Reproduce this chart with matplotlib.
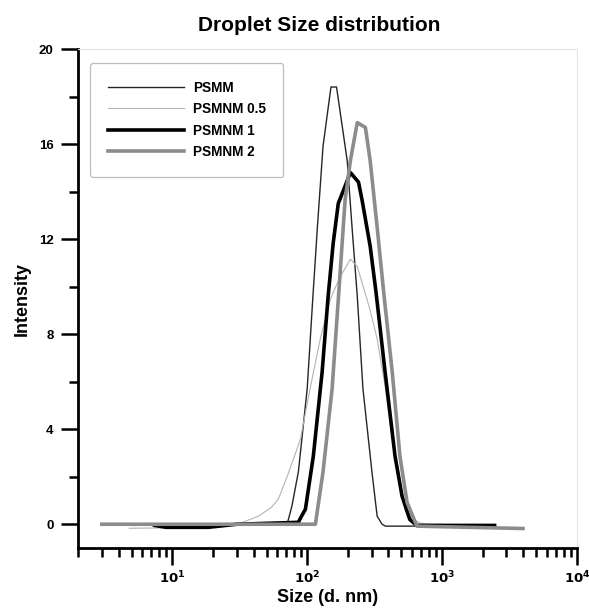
import numpy as np
import matplotlib
matplotlib.use("Agg")
import matplotlib.pyplot as plt
from matplotlib.ticker import FixedLocator, NullFormatter

plt.rcParams['font.family'] = ['Liberation Sans', 'DejaVu Sans']
plt.rcParams['font.weight'] = 'bold'

# Datos (tamano en nm, intensidad)
psmm_x = [4, 20, 71, 77, 86, 100, 110, 119, 131, 150, 165, 175, 198, 215, 235, 259, 302, 330, 359, 380, 1000]
psmm_y = [0, 0, 0, 0.76, 2.2, 5.7, 9.5, 12.5, 15.9, 18.4, 18.4, 17.4, 15.3, 12.5, 9.6, 5.7, 2.2, 0.34, 0, -0.08, -0.08]

psmnm05_x = [4.8, 10, 20, 25, 32.5, 43.5, 54, 61, 71, 89, 105, 125, 149, 175, 209, 235, 278, 293, 330, 378, 427, 487, 532, 590, 687, 800, 1000]
psmnm05_y = [-0.17, -0.15, -0.12, 0, 0.06, 0.34, 0.7, 1.05, 2.0, 3.57, 5.7, 7.8, 9.5, 10.4, 11.15, 10.85, 9.45, 9.0, 7.8, 5.8, 3.6, 1.6, 0.6, 0.25, 0.05, 0, 0]

psmnm1_x = [7.4, 9, 18.5, 30, 86, 90, 97, 111, 129, 143, 156, 170, 209, 240, 255, 293, 324, 378, 448, 505, 576, 650, 2450]
psmnm1_y = [-0.05, -0.13, -0.13, 0, 0.08, 0.3, 0.63, 2.86, 6.4, 9.6, 11.85, 13.5, 14.8, 14.4, 13.65, 11.7, 9.75, 6.4, 2.86, 1.18, 0.2, -0.05, -0.05]

psmnm2_x = [3, 110, 115, 131, 153, 170, 178, 191, 209, 235, 270, 293, 330, 370, 427, 487, 550, 650, 3980]
psmnm2_y = [0, 0, 0, 2.2, 5.7, 9.45, 11.1, 13.65, 15.3, 16.9, 16.7, 15.3, 12.5, 9.7, 6.4, 2.86, 0.92, -0.08, -0.18]

labels = ['PSMM', 'PSMNM 0.5', 'PSMNM 1', 'PSMNM 2']

fig = plt.figure(figsize=(5.89, 6.08), dpi=100)
ax = fig.add_axes([78 / 589, 1 - 548 / 608, 499 / 589, 499 / 608])

ax.plot(psmm_x, psmm_y, color='#262626', lw=1.0, label=labels[0])
ax.plot(psmnm05_x, psmnm05_y, color='#b4b4b4', lw=0.8, label=labels[1])
ax.plot(psmnm1_x, psmnm1_y, color='black', lw=2.6, label=labels[2])
ax.plot(psmnm2_x, psmnm2_y, color='#8c8c8c', lw=2.6, label=labels[3])

ax.set_xscale('log')
ax.set_xlim(2, 1e4)
ax.set_ylim(-1, 20)

# Ejes: izquierda y abajo gruesos, arriba y derecha tenues
for s in ['left', 'bottom']:
    ax.spines[s].set_linewidth(2)
    ax.spines[s].set_color('black')
for s in ['top', 'right']:
    ax.spines[s].set_linewidth(0.8)
    ax.spines[s].set_color('#e2e2e2')

ax.set_yticks([0, 4, 8, 12, 16, 20])
ax.set_yticks([2, 6, 10, 14, 18], minor=True)
ax.set_xticks([10, 100, 1000, 10000])
ax.set_xticklabels([r'$\mathbf{10^{1}}$', r'$\mathbf{10^{2}}$', r'$\mathbf{10^{3}}$', r'$\mathbf{10^{4}}$'])
minors = [m * 10 ** e for e in range(0, 4) for m in range(2, 10)]
ax.xaxis.set_minor_locator(FixedLocator([v for v in minors if 2 <= v <= 1e4]))
ax.xaxis.set_minor_formatter(NullFormatter())

ax.tick_params(which='major', direction='out', length=12.5, width=1.8, top=False, right=False)
ax.tick_params(which='minor', direction='out', length=6.5, width=1.8, top=False, right=False)
ax.tick_params(axis='y', which='major', pad=5, labelsize=9.5)
ax.tick_params(axis='x', which='major', pad=3, labelsize=9.5)

for t in ax.get_yticklabels():
    t.set_fontweight('bold')

ax.set_xlabel('Size (d. nm)', fontsize=13, fontweight='bold', labelpad=2)
ax.set_ylabel('Intensity', fontsize=13, fontweight='bold', labelpad=6)
ax.set_title('Droplet Size distribution', fontsize=15, fontweight='bold', pad=13)
ax.title.set_x(0.483)

leg = ax.legend(loc='upper left', bbox_to_anchor=(12 / 499, 1 - 14 / 499), borderaxespad=0,
                prop={'weight': 'bold', 'size': 9.8}, handlelength=5.6, handletextpad=0.65,
                labelspacing=0.55, borderpad=1.3, fancybox=True, framealpha=1)
leg.get_frame().set_edgecolor('#bdbdbd')
leg.get_frame().set_linewidth(0.9)

fig.savefig('out.png', dpi=100)
